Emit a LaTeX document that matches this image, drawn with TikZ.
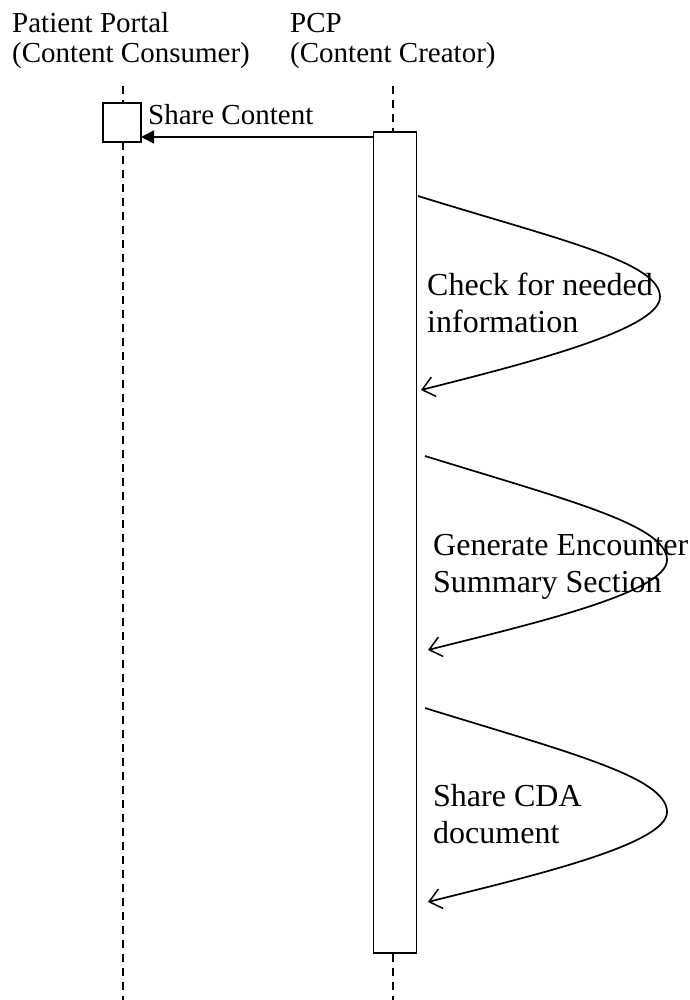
\documentclass[tikz,border=0pt]{standalone}
\usepackage{fontspec}
\setmainfont{Liberation Serif}
\usetikzlibrary{arrows.meta}
\begin{document}
\begin{tikzpicture}[x=1pt,y=-1pt,
  lifeline/.style={line width=1.6pt,dash pattern=on 8pt off 6pt},
  actbox/.style={draw,line width=1.7pt,fill=white,rectangle,inner sep=0pt},
  hdr/.style={anchor=base west,inner sep=0pt,align=left,font=\fontsize{29}{30}\selectfont},
  lbl/.style={anchor=base west,inner sep=0pt,align=left,font=\fontsize{32}{37}\selectfont},
  selfmsg/.style={line width=1.7pt,-{Straight Barb[length=12pt,width=20pt,line width=1.5pt]}},
  syncmsg/.style={line width=1.7pt,-{Triangle[length=13pt,width=13pt]}}]
\useasboundingbox (0,0) rectangle (689,1000);
% headers (base anchor = last line)
\node[hdr] (pp) at (12,63) {Patient Portal\\(Content Consumer)};
\node[hdr] (pcp) at (290,63) {PCP\\(Content Creator)};
% lifelines
\coordinate (ppTop) at (123,86);
\coordinate (ppBot) at (123,1000);
\coordinate (pcpTop) at (393,86);
\coordinate (pcpBot) at (393,1000);
\draw[lifeline] (ppTop) -- (ppBot);
\draw[lifeline] (pcpTop) -- (pcpBot);
% activation boxes
\node[actbox,minimum width=38pt,minimum height=39pt] (ppbox) at (122,122.5) {};
\node[actbox,minimum width=43pt,minimum height=821pt] (pcpbar) at (395,542.5) {};
% share content
\coordinate (scStart) at (373.2,137);
\coordinate (scEnd) at (141,137);
\draw[syncmsg] (scStart) -- (scEnd);
\node[anchor=base west,inner sep=0pt,font=\fontsize{29}{31}\selectfont] (sclbl) at (148,125) {Share Content};
% self messages
\coordinate (s1) at (418,196);
\coordinate (m1) at (660,297);
\coordinate (e1) at (421,390);
\draw[selfmsg] (s1) .. controls (560,240) and (660,262) .. (m1) .. controls (660,330) and (520,365) .. (e1);
\node[lbl] (l1) at (427,332) {Check for needed\\information};
\coordinate (s2) at (425,456);
\coordinate (m2) at (667,560);
\coordinate (e2) at (428,650);
\draw[selfmsg] (s2) .. controls (567,500) and (667,525) .. (m2) .. controls (667,593) and (527,625) .. (e2);
\node[lbl] (l2) at (433,592) {Generate Encounter\\Summary Section};
\coordinate (s3) at (425,708);
\coordinate (m3) at (667,812);
\coordinate (e3) at (428,902);
\draw[selfmsg] (s3) .. controls (567,752) and (667,777) .. (m3) .. controls (667,845) and (527,877) .. (e3);
\node[lbl] (l3) at (433,843) {Share CDA\\document};
\end{tikzpicture}
\end{document}
